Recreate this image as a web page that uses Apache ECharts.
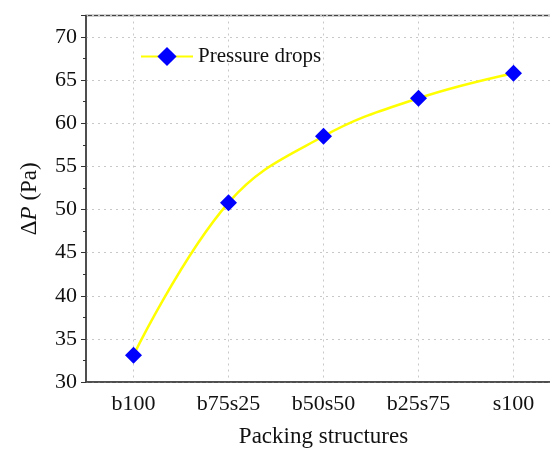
<!DOCTYPE html>
<html><head><meta charset="utf-8">
<script src="https://cdn.jsdelivr.net/npm/echarts@6/dist/echarts.min.js"></script>
<style>html,body{margin:0;padding:0;background:#fff;overflow:hidden;width:550px;height:453px}#c{width:562px;height:453px}</style>
</head><body><div id="c"></div>
<script>
const categories = ['b100', 'b75s25', 'b50s50', 'b25s75', 's100'];
const pressureDrops = [33.1, 50.8, 58.5, 62.9, 65.8];
const seriesName = 'Pressure drops';
const xTitle = 'Packing structures';

const FONT = '"Liberation Serif", "Times New Roman", serif';
const chart = echarts.init(document.getElementById('c'));
chart.setOption({
  animation: false,
  backgroundColor: '#fff',
  grid: { left: 86, right: 1, top: 15.5, bottom: 69, show: true, borderColor: '#444', borderWidth: 1.5, backgroundColor: 'transparent' },
  legend: {
    left: 135, top: 41, itemWidth: 52, itemHeight: 24, itemGap: 8,
    textStyle: { fontFamily: FONT, fontSize: 21, color: '#111' },
    data: [{ name: seriesName }]
  },
  xAxis: {
    type: 'category', data: categories, boundaryGap: true,
    name: xTitle, nameLocation: 'middle', nameGap: 43,
    nameTextStyle: { fontFamily: FONT, fontSize: 23, color: '#111' },
    axisLine: { lineStyle: { color: '#444', width: 1.5 } },
    axisTick: { alignWithLabel: true, inside: true, length: 6, lineStyle: { color: '#333' } },
    axisLabel: { fontFamily: FONT, fontSize: 22, color: '#111', margin: 11 },
    splitLine: { show: true, alignWithLabel: true, lineStyle: { color: '#c8c8c8', type: [2, 4], width: 1 } }
  },
  yAxis: {
    type: 'value', min: 30, max: 72.5, interval: 5,
    name: '{d|Δ}{p|P}{d| (Pa)}', nameLocation: 'middle', nameGap: 45, nameRotate: 90,
    nameTextStyle: { rich: { d: { fontFamily: FONT, fontSize: 23, color: '#111' }, p: { fontFamily: FONT, fontSize: 23, fontStyle: 'italic', color: '#111' } } },
    axisLine: { show: true, lineStyle: { color: '#444', width: 1.5 } },
    axisTick: { show: true, inside: false, length: 5, lineStyle: { color: '#333' } },
    minorTick: { show: true, splitNumber: 2, length: 3, lineStyle: { color: '#333' } },
    axisLabel: { fontFamily: FONT, fontSize: 22, color: '#111', margin: 9, showMaxLabel: false },
    splitLine: { show: true, lineStyle: { color: '#c8c8c8', type: [2, 4], width: 1 } }
  },
  series: [{
    name: seriesName, type: 'line', data: pressureDrops, smooth: 0.4,
    symbol: 'diamond', symbolSize: 17,
    lineStyle: { color: '#ffff00', width: 2.5 },
    itemStyle: { color: '#0000ff' }
  }]
});
</script></body></html>
